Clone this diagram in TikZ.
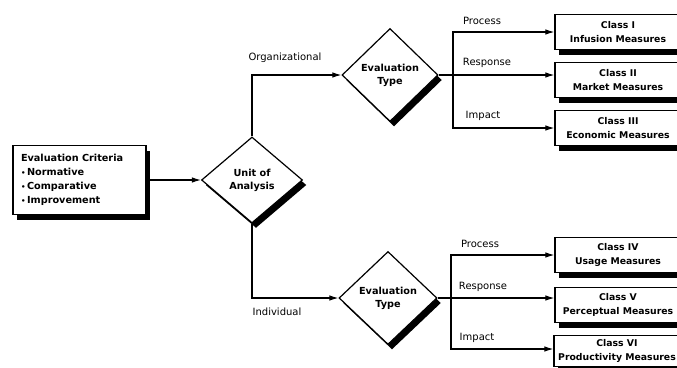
\documentclass[tikz,border=0pt]{standalone}
\usepackage{fontspec}
\setmainfont{DejaVu Sans}
\usetikzlibrary{shapes.geometric,shadows,arrows.meta}

\tikzset{
  shade box/.style={drop shadow={shadow xshift=4pt,shadow yshift=-5pt,fill=black,opacity=1}},
  critbox/.style={draw,line width=1.2pt,fill=white,shade box,rectangle,inner sep=0pt,
    minimum width=133pt,minimum height=69pt,align=left,text width=117pt,
    font=\fontsize{9.7}{13.8}\selectfont\bfseries},
  classbox/.style={draw,line width=1.2pt,fill=white,shade box,rectangle,inner sep=0pt,
    minimum width=126pt,minimum height=35pt,align=center,
    font=\fontsize{9.3}{13.8}\selectfont\bfseries},
  decision/.style={draw,line width=1.2pt,fill=white,shade box,diamond,inner sep=0pt,
    align=center,font=\fontsize{9.7}{13}\selectfont\bfseries},
  flow/.style={line width=1.1pt,-{Latex[length=9pt,width=5.5pt]}},
  plain/.style={line width=1.1pt},
  tag/.style={font=\fontsize{10}{12}\selectfont,inner sep=0pt},
}
\newcommand{\critdot}{{\fontsize{7}{7}\selectfont\textbullet}\,}

\begin{document}
\begin{tikzpicture}[x=1pt,y=-1pt]
  \useasboundingbox (0,0) rectangle (677,367);
  \clip (0,0) rectangle (677,367);
  \fill[white] (0,0) rectangle (677,367);

  % criteria and first decision
  \node[critbox] (crit) at (79.5,180)
    {Evaluation Criteria\\ \critdot Normative\\ \critdot Comparative\\ \critdot Improvement};
  \node[decision,minimum width=101pt,minimum height=86pt] (unit) at (252,180) {Unit of\\Analysis};

  % second-level decisions
  \node[decision,minimum width=96pt,minimum height=93pt] (et1) at (390,75) {Evaluation\\Type};
  \node[decision,minimum width=98pt,minimum height=93pt] (et2) at (388,298) {Evaluation\\Type};

  % measure classes
  \node[classbox] (c1) at (618,32)  {Class I\\Infusion Measures};
  \node[classbox] (c2) at (618,80)  {Class II\\Market Measures};
  \node[classbox] (c3) at (618,128) {Class III\\Economic Measures};
  \node[classbox] (c4) at (618,255) {Class IV\\Usage Measures};
  \node[classbox] (c5) at (618,305) {Class V\\Perceptual Measures};
  \node[classbox,minimum height=31pt] (c6) at (617,351) {Class VI\\Productivity Measures};

  % branch points
  \coordinate (j1) at (453,75);
  \coordinate (j2) at (451,298);

  % connectors
  \draw[flow] (crit.east) -- (unit.west);
  \draw[flow] (unit.north) |- (et1.west);
  \draw[flow] (unit.south) |- (et2.west);

  \draw[plain] (et1.east) -- (j1);
  \draw[flow] (j1) |- (c1.west);
  \draw[flow] (j1) -- (j1 -| c2.west);
  \draw[flow] (j1) |- (c3.west);

  \draw[plain] (et2.east) -- (j2);
  \draw[flow] (j2) |- (c4.west);
  \draw[flow] (j2) -- (j2 -| c5.west);
  \draw[flow] (j2) |- ([yshift=2pt]c6.west);

  % branch labels
  \node[tag] (lorg) at (285,58)  {Organizational};
  \node[tag] (lind) at (277,312) {Individual};
  \node[tag] (lp1)  at (482,21)  {Process};
  \node[tag] (lr1)  at (487,63)  {Response};
  \node[tag] (li1)  at (483,116) {Impact};
  \node[tag] (lp2)  at (480,244) {Process};
  \node[tag] (lr2)  at (483,287) {Response};
  \node[tag] (li2)  at (477,338) {Impact};
\end{tikzpicture}
\end{document}
